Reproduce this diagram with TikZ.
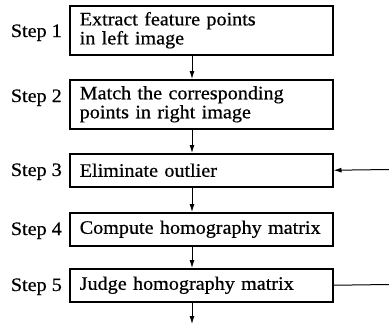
\documentclass[tikz,border=0pt]{standalone}
\usepackage{fontspec}
\setmainfont{Liberation Serif}[FakeStretch=1.06,FakeBold=0.6]
\usetikzlibrary{arrows.meta}
\begin{document}
\begin{tikzpicture}[x=1pt,y=-1pt]
  \tikzset{
    stepbox/.style={draw, line width=1.5pt, anchor=north west,
      minimum width=263pt, text width=243pt, inner xsep=10pt, inner ysep=0pt,
      align=left, font=\fontsize{19}{19}\selectfont},
    steplabel/.style={anchor=base east, inner sep=0pt,
      font=\fontsize{19}{19}\selectfont},
    flow/.style={line width=1pt, -{Latex[length=8pt,width=5pt]}},
    plain/.style={line width=1pt},
  }
  \useasboundingbox (0,0) rectangle (389,327);

  % the five processing steps
  \node[stepbox, minimum height=49pt] (s1) at (69,5)   {Extract feature points\\in left image};
  \node[stepbox, minimum height=49pt] (s2) at (69,79)  {Match the corresponding\\points in right image};
  \node[stepbox, minimum height=33pt] (s3) at (69,153) {Eliminate outlier};
  \node[stepbox, minimum height=33pt] (s4) at (69,212) {Compute homography matrix};
  \node[stepbox, minimum height=33pt] (s5) at (69,268) {Judge homography matrix};

  % step numbers on the left
  \node[steplabel] (l1) at (62,37)    {Step 1};
  \node[steplabel] (l2) at (62,102)   {Step 2};
  \node[steplabel] (l3) at (62,176)   {Step 3};
  \node[steplabel] (l4) at (62,235)   {Step 4};
  \node[steplabel] (l5) at (62,291)   {Step 5};

  % vertical flow, slightly left of the box centres
  \coordinate (ax) at (192,0);
  \coordinate (out) at (192,324);
  \draw[flow] (s1.south -| ax) -- (s2.north -| ax);
  \draw[flow] (s2.south -| ax) -- (s3.north -| ax);
  \draw[flow] (s3.south -| ax) -- (s4.north -| ax);
  \draw[flow] (s4.south -| ax) -- (s5.north -| ax);
  \draw[flow] (s5.south -| ax) -- (out);

  % feedback loop running off the right edge
  \coordinate (fbin) at (389,169.5);
  \coordinate (fbout) at (389,284.5);
  \draw[plain] (s5.east) -- (fbout);
  \draw[flow] (fbin) -- (s3.east);
\end{tikzpicture}
\end{document}
